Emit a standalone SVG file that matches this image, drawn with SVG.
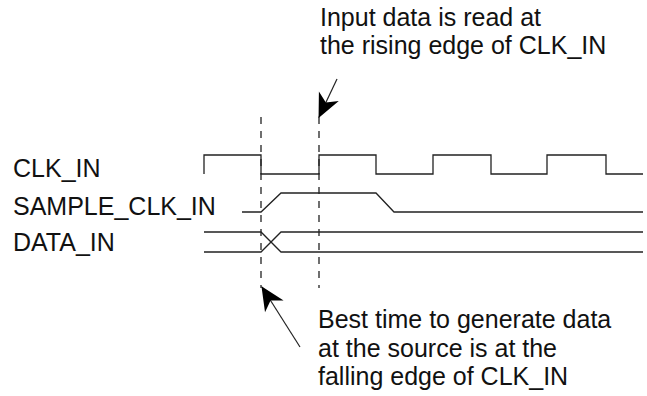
<svg xmlns="http://www.w3.org/2000/svg" width="647" height="396" viewBox="0 0 647 396">
<style>
.t{font-family:"Liberation Sans",Arial,sans-serif;font-size:25px;fill:#111}
.w{fill:none;stroke:#222;stroke-width:1.3}
.d{fill:none;stroke:#222;stroke-width:1.3;stroke-dasharray:7 7}
.a{fill:none;stroke:#222;stroke-width:1.2}
</style>
<defs>
<marker id="ah" markerUnits="userSpaceOnUse" markerWidth="1" markerHeight="1" refX="0" refY="0" orient="auto" overflow="visible">
<path d="M1,0 L-23,-11 L-16,0 L-23,11 Z" fill="#000"/>
</marker>
</defs>
<rect width="647" height="396" fill="#fff"/>
<g id="labels">
<text class="t" x="13" y="177">CLK_IN</text>
<text class="t" x="13" y="215">SAMPLE_CLK_IN</text>
<text class="t" x="13" y="251">DATA_IN</text>
</g>
<g id="clk_in">
<path class="w" d="M204,174 V155 H261 V174 H319 V155 H376 V174 H433 V155 H491 V174 H547 V155 H606 V174 H643"/>
</g>
<g id="sample_clk_in">
<path class="w" d="M242,212 H261 L281,193 H376 L394,212 H643"/>
</g>
<g id="data_in">
<path class="w" d="M204,232 H261 L281,252 H643"/>
<path class="w" d="M204,252 H261 L281,232 H643"/>
</g>
<g id="note_top">
<text class="t" x="320" y="26">Input data is read at</text>
<text class="t" x="320" y="54">the rising edge of CLK_IN</text>
</g>
<g id="note_bottom">
<text class="t" x="318" y="328">Best time to generate data</text>
<text class="t" x="318" y="356.5">at the source is at the</text>
<text class="t" x="318" y="385">falling edge of CLK_IN</text>
</g>
<g id="connectors">
<line class="d" x1="261" y1="117" x2="261" y2="288"/>
<line class="d" x1="319" y1="117" x2="319" y2="288"/>
<line class="a" x1="337" y1="79" x2="319" y2="117" marker-end="url(#ah)"/>
<line class="a" x1="300" y1="347" x2="262" y2="287" marker-end="url(#ah)"/>
</g>
</svg>
